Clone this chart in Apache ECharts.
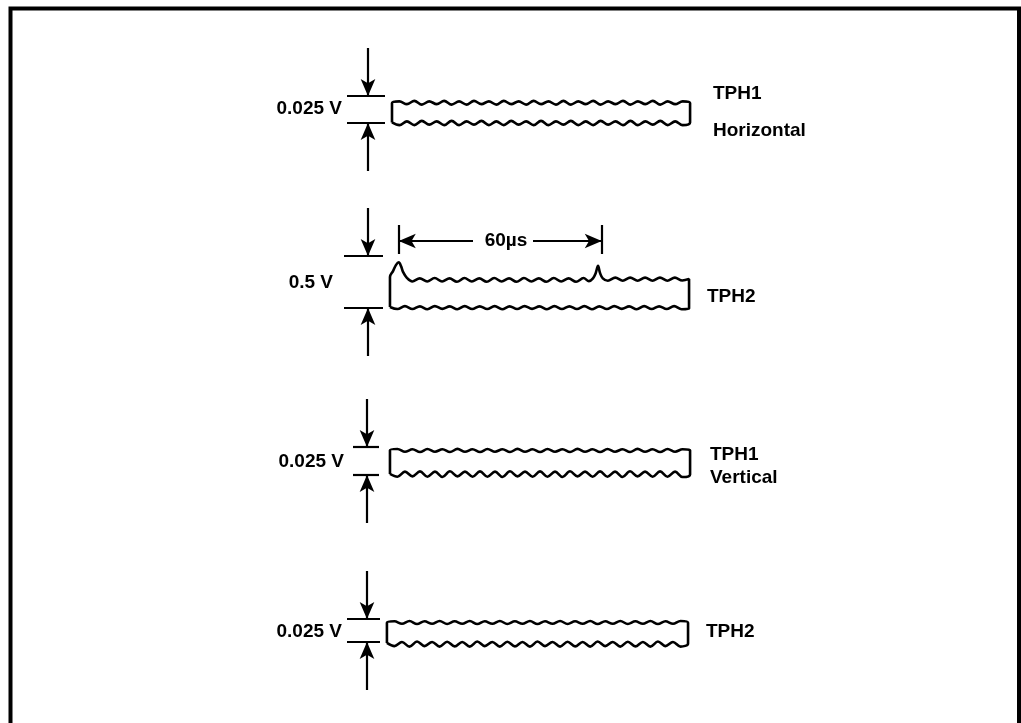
<!DOCTYPE html>
<html>
<head>
<meta charset="utf-8">
<script src="https://cdn.jsdelivr.net/npm/echarts/dist/echarts.min.js"></script>
<style>
  html, body { margin: 0; padding: 0; background: #fff; }
  #chart { width: 1021px; height: 723px; }
</style>
</head>
<body>
<div id="chart"></div>
<script>
// marked levels (V) and trace names, top to bottom
var levelsV = [0.025, 0.5, 0.025, 0.025];
var traceNames = [['TPH1', 'Horizontal'], ['TPH2'], ['TPH1', 'Vertical'], ['TPH2']];
// time span of each trace, µs
var traceStartUs = [0, -0.6, -0.6, -1.5];
var traceEndUs = [88.1, 87.8, 88.1, 87.5];
// 60 µs dimension between the two pulses
var pulseMarksUs = [2, 62];
var pulseText = '60µs';

// ripple samples, mV, evenly spaced over the trace
var tph1hTop = [18.5, 20, 17.5, 20.5, 17, 20, 17.5, 20.5, 17, 20,
  17, 20.5, 17.5, 20, 17, 20.5, 17.5, 20, 17, 20.5,
  17.5, 20, 17, 20.5, 17, 20, 17.5, 20.5, 17, 20,
  17.5, 20.5, 17, 20, 17.5, 20.5, 17, 20, 17.5, 20, 18.5];
var tph1hBot = [0.5, -2, 1.5, -2, 2, -1.5, 1.5, -2, 2, -2,
  1.5, -1.5, 2, -2, 1.5, -2, 2, -1.5, 1.5, -2,
  2, -2, 1.5, -1.5, 2, -2, 1.5, -2, 2, -1.5,
  1.5, -2, 2, -2, 1.5, -1.5, 2, -2, 1.5, -2, 0.5];
// TPH2 (0.5 V) top edge with the two pulses: [µs, mV]
var tph2Top = [[-0.6, 298], [0.3, 355], [1.2, 415], [2.0, 440], [2.7, 400], [3.3, 345], [4.4, 290], [6.0, 255],
  [8.2, 285], [10.4, 255], [12.6, 288], [14.8, 255], [17.0, 285], [19.2, 252], [21.4, 288], [23.6, 255],
  [25.8, 285], [28.0, 252], [30.2, 288], [32.4, 255], [34.6, 285], [36.8, 252], [39.0, 288], [41.2, 255],
  [43.4, 285], [45.6, 252], [47.8, 288], [50.0, 255], [52.2, 285], [54.4, 252], [56.6, 288], [58.2, 258],
  [59.4, 285], [60.2, 335], [60.9, 405], [61.5, 335], [62.3, 285], [63.8, 262], [66.0, 292], [68.2, 262],
  [70.4, 292], [72.6, 262], [74.8, 292], [77.0, 262], [79.2, 292], [81.4, 262], [83.6, 292], [85.8, 265], [87.8, 280]];
var tph2Bot = [10, -10, 18, -10, 16, -12, 18, -8, 16, -12,
  18, -10, 16, -10, 18, -12, 16, -10, 18, -8,
  16, -12, 18, -10, 16, -10, 18, -12, 16, -10,
  18, -8, 16, -12, 18, -10, 16, -10, 18, -12, -5];
var tph1vTop = [22, 23.2, 20.7, 23, 20.5, 23.2, 20.8, 23, 20.5, 23.3,
  20.7, 23, 20.5, 23.2, 20.8, 23, 20.5, 23.3, 20.7, 23,
  20.5, 23.2, 20.8, 23, 20.5, 23.3, 20.7, 23, 20.5, 23.2,
  20.8, 23, 20.5, 23.3, 20.7, 23, 20.5, 23.2, 20.8, 23, 22];
var tph1vBot = [1, -1.5, 3, -1.2, 3.2, -1.5, 3, -1.8, 3.3, -1.2,
  3, -1.5, 3.2, -1.5, 3, -1.8, 3.3, -1.2, 3, -1.5,
  3.2, -1.5, 3, -1.8, 3.3, -1.2, 3, -1.5, 3.2, -1.5,
  3, -1.8, 3.3, -1.2, 3, -1.5, 3.2, -1.5, 3, -1.8, 0.5];
var tph2vTop = [21, 22.5, 19.8, 22.8, 19.5, 22.5, 19.8, 22.8, 19.6, 22.5,
  19.8, 22.8, 19.5, 22.5, 19.8, 22.8, 19.6, 22.5, 19.8, 22.8,
  19.5, 22.5, 19.8, 22.8, 19.6, 22.5, 19.8, 22.8, 19.5, 22.5,
  19.8, 22.8, 19.6, 22.5, 19.8, 22.8, 19.5, 22.5, 19.8, 22.8, 21];
var tph2vBot = [-1, -4.5, 0, -5, 0.5, -4.5, 0, -5, 0.3, -4.8,
  0, -5, 0.5, -4.5, 0, -5, 0.3, -4.8, 0, -5,
  0.5, -4.5, 0, -5, 0.3, -4.8, 0, -5, 0.5, -4.5,
  0, -5, 0.3, -4.8, 0, -5, 0.5, -4.5, 0, -5, -1.5];

var topEdges = [tph1hTop, tph2Top, tph1vTop, tph2vTop];
var botEdges = [tph1hBot, tph2Bot, tph1vBot, tph2vBot];

// page layout (pixels)
var X0 = 392, PX_US = 203 / 60, XMIN = -20, XMAX = 100, PAD = 70, ARROW_PX = 48;
var layout = [
  { top: 96, bottom: 123, bracket: [347, 385], arrowX: 368, voltX: 342, voltY: 109, nameX: 713, nameY: [94, 131] },
  { top: 256, bottom: 308, bracket: [344, 383], arrowX: 368, voltX: 333, voltY: 283, nameX: 707, nameY: [297] },
  { top: 447, bottom: 475, bracket: [353, 379], arrowX: 367, voltX: 344, voltY: 462, nameX: 710, nameY: [455, 478] },
  { top: 619, bottom: 642, bracket: [347, 380], arrowX: 367, voltX: 342, voltY: 632, nameX: 706, nameY: [632] }
];
var FONT = { color: '#000', fontFamily: '"Liberation Sans", Arial, sans-serif', fontSize: 19, fontWeight: 'bold',
  textBorderWidth: 0, textShadowBlur: 0 };
var INK = '#000';

function usAt(px) { return (px - X0) / PX_US; }

function edgePoints(edge, start, end) {
  if (Array.isArray(edge[0])) return edge.slice();
  var step = (end - start) / (edge.length - 1);
  return edge.map(function(v, i) { return [start + i * step, v]; });
}

var grids = [], xAxes = [], yAxes = [], series = [];

layout.forEach(function(p, i) {
  var spanMv = levelsV[i] * 1000;
  var mvPx = spanMv / (p.bottom - p.top);
  var mvAt = function(py) { return (p.bottom - py) * mvPx; };

  grids.push({ left: X0 + XMIN * PX_US, width: (XMAX - XMIN) * PX_US, top: p.top - PAD, height: p.bottom - p.top + 2 * PAD });
  xAxes.push({ gridIndex: i, type: 'value', min: XMIN, max: XMAX, show: false });
  yAxes.push({ gridIndex: i, type: 'value', min: -PAD * mvPx, max: spanMv + PAD * mvPx, show: false });

  var top = edgePoints(topEdges[i], traceStartUs[i], traceEndUs[i]);
  var bot = edgePoints(botEdges[i], traceStartUs[i], traceEndUs[i]);
  var path = [[traceStartUs[i], bot[0][1]]].concat(top, bot.slice().reverse());

  var bx0 = usAt(p.bracket[0]), bx1 = usAt(p.bracket[1]), ax = usAt(p.arrowX);
  var arrowEnd = { symbol: 'arrow', symbolSize: [11, 17] };
  var marks = [
    [{ coord: [bx0, spanMv] }, { coord: [bx1, spanMv] }],
    [{ coord: [bx0, 0] }, { coord: [bx1, 0] }],
    [{ coord: [ax, spanMv + ARROW_PX * mvPx] }, Object.assign({ coord: [ax, spanMv] }, arrowEnd)],
    [{ coord: [ax, -ARROW_PX * mvPx] }, Object.assign({ coord: [ax, 0] }, arrowEnd)]
  ];
  var labels = [{ value: [usAt(p.voltX), mvAt(p.voltY)], name: levelsV[i] + ' V', label: { position: 'left' } }];
  traceNames[i].forEach(function(n, k) {
    labels.push({ value: [usAt(p.nameX), mvAt(p.nameY[k])], name: n, label: { position: 'right' } });
  });

  if (i === 1) {
    pulseMarksUs.forEach(function(t) {
      marks.push([{ coord: [t, mvAt(225)] }, { coord: [t, mvAt(254)] }]);
    });
    marks.push([{ coord: [usAt(473), mvAt(241)] }, Object.assign({ coord: [pulseMarksUs[0], mvAt(241)] }, arrowEnd)]);
    marks.push([{ coord: [usAt(533), mvAt(241)] }, Object.assign({ coord: [pulseMarksUs[1], mvAt(241)] }, arrowEnd)]);
    labels.push({ value: [usAt(506), mvAt(241)], name: pulseText, label: { position: 'inside' } });
  }

  series.push({
    type: 'line', xAxisIndex: i, yAxisIndex: i, data: path,
    symbol: 'none', smooth: 0.35, clip: false, animation: false, silent: true,
    lineStyle: { color: INK, width: 2.6 },
    markLine: {
      silent: true, animation: false, symbol: ['none', 'none'], precision: 6,
      lineStyle: { color: INK, width: 2.2, type: 'solid', opacity: 1 },
      label: { show: false }, emphasis: { disabled: true },
      data: marks
    }
  });
  series.push({
    type: 'scatter', xAxisIndex: i, yAxisIndex: i, data: labels,
    symbolSize: 0, silent: true, animation: false, clip: false,
    itemStyle: { opacity: 1 },
    label: Object.assign({ show: true, distance: 0, formatter: '{b}' }, FONT)
  });
});

var chart = echarts.init(document.getElementById('chart'));
chart.setOption({
  backgroundColor: '#fff',
  animation: false,
  grid: grids,
  xAxis: xAxes,
  yAxis: yAxes,
  series: series,
  graphic: [{
    type: 'rect', silent: true,
    shape: { x: 10.5, y: 8.5, width: 1008.5, height: 740 },
    style: { fill: 'none', stroke: '#000', lineWidth: 4 }
  }]
});
</script>
</body>
</html>
